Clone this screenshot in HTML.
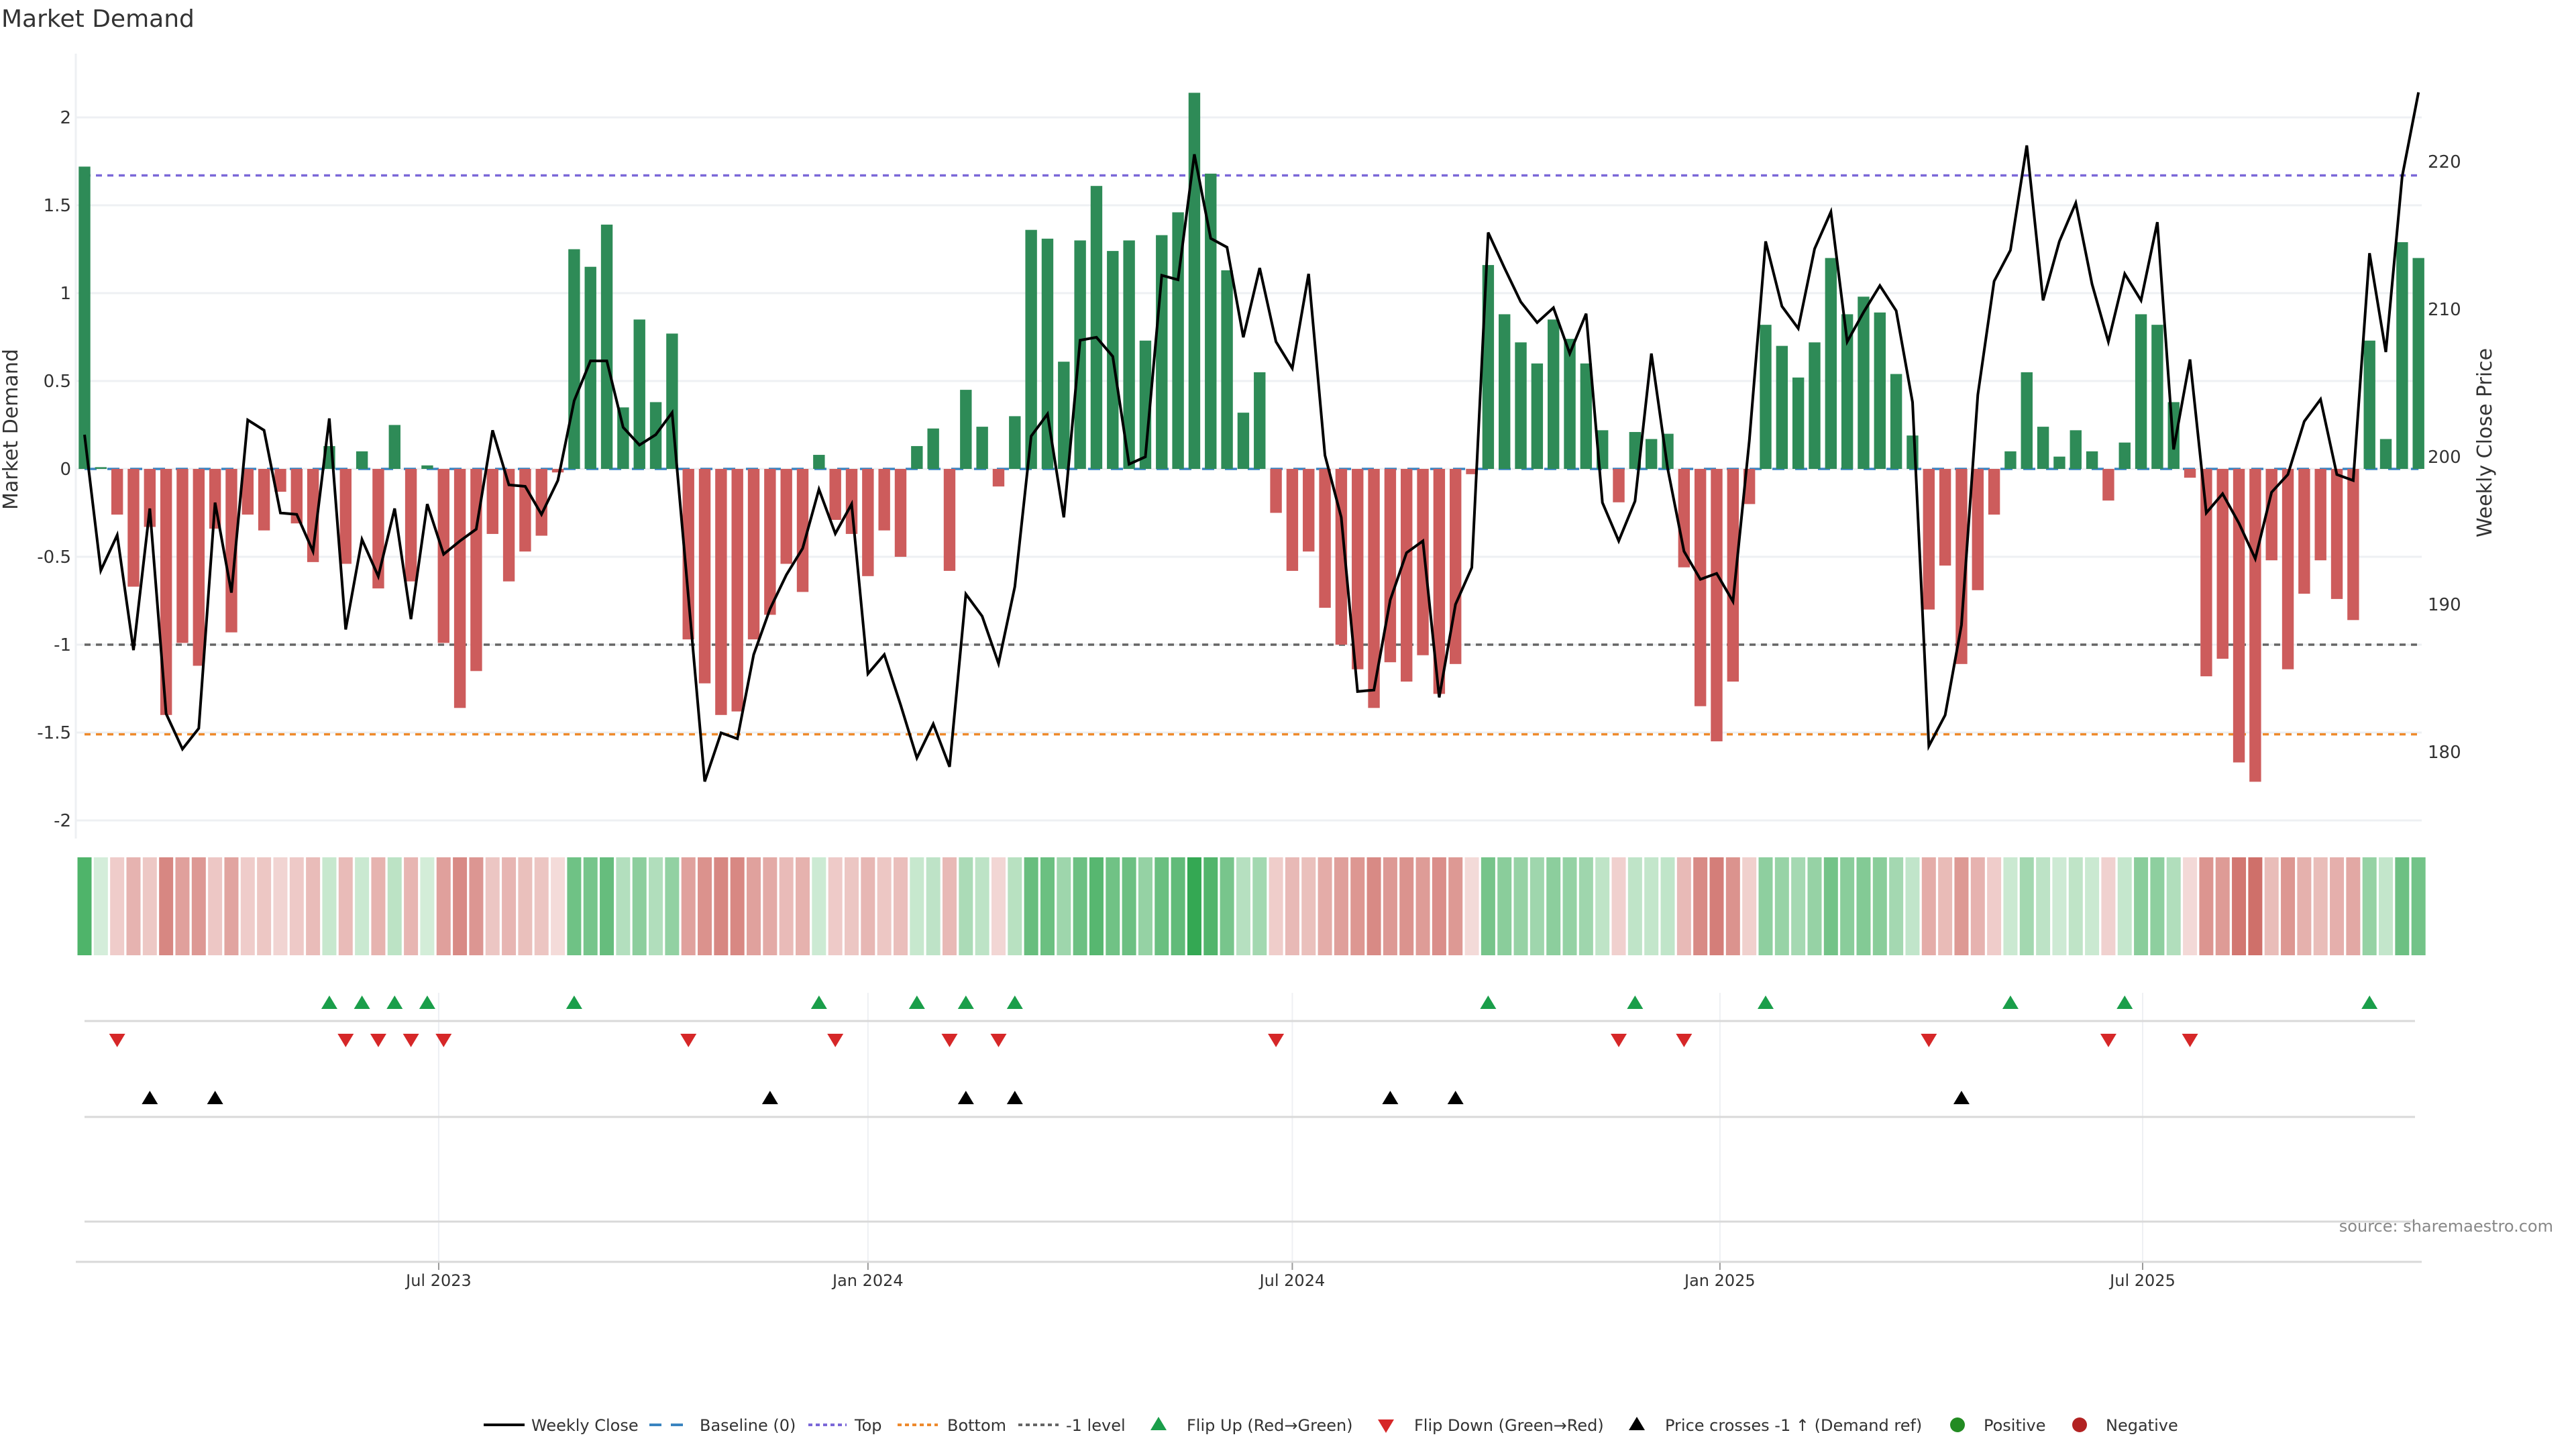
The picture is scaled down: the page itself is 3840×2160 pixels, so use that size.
<!DOCTYPE html>
<html><head><meta charset="utf-8">
<style>
html,body{margin:0;padding:0;background:#fff;}
svg{display:block;font-family:"DejaVu Sans","Liberation Sans",sans-serif;}
</style></head>
<body>
<svg id="chart" width="3840" height="2160" viewBox="0 0 3840 2160" xmlns="http://www.w3.org/2000/svg">
<text x="2" y="40" font-size="36" fill="#333">Market Demand</text>
<g id="grid"></g><g id="refs"></g><g id="bars"></g><g id="priceline"></g>
<g id="axes"></g><g id="heat"></g><g id="markers"></g><g id="legend"></g>
<text x="3806" y="1836" font-size="24" fill="#888" text-anchor="end">source: sharemaestro.com</text>
</svg>
<script>
const demand=[1.72,0.01,-0.26,-0.67,-0.33,-1.40,-0.99,-1.12,-0.34,-0.93,-0.26,-0.35,-0.13,-0.31,-0.53,0.13,-0.54,0.10,-0.68,0.25,-0.64,0.02,-0.99,-1.36,-1.15,-0.37,-0.64,-0.47,-0.38,-0.02,
1.25,1.15,1.39,0.35,0.85,0.38,0.77,-0.97,-1.22,-1.40,-1.38,-0.97,-0.83,-0.54,-0.70,0.08,-0.29,-0.37,-0.61,-0.35,-0.50,0.13,0.23,-0.58,0.45,0.24,-0.10,0.30,1.36,1.31,
0.61,1.30,1.61,1.24,1.30,0.73,1.33,1.46,2.14,1.68,1.13,0.32,0.55,-0.25,-0.58,-0.47,-0.79,-1.00,-1.14,-1.36,-1.10,-1.21,-1.06,-1.28,-1.11,-0.03,1.16,0.88,0.72,0.60,
0.85,0.74,0.60,0.22,-0.19,0.21,0.17,0.20,-0.56,-1.35,-1.55,-1.21,-0.20,0.82,0.70,0.52,0.72,1.20,0.88,0.98,0.89,0.54,0.19,-0.80,-0.55,-1.11,-0.69,-0.26,0.10,0.55,
0.24,0.07,0.22,0.10,-0.18,0.15,0.88,0.82,0.38,-0.05,-1.18,-1.08,-1.67,-1.78,-0.52,-1.14,-0.71,-0.52,-0.74,-0.86,0.73,0.17,1.29,1.20];
const price=[201.5,192.3,194.7,186.9,196.5,182.6,180.2,181.6,196.9,190.8,202.5,201.8,196.2,196.1,193.6,202.6,188.3,194.4,191.9,196.5,189.0,196.8,193.4,194.3,195.1,201.8,198.1,198.0,196.1,198.4,
203.8,206.5,206.5,202.0,200.8,201.5,203.0,190.5,178.0,181.3,180.9,186.6,189.7,192.0,193.8,197.8,194.8,196.8,185.3,186.6,183.2,179.6,181.9,179.0,190.7,189.2,186.0,191.2,201.4,202.9,
195.9,207.9,208.1,206.8,199.5,200.0,212.3,212.0,220.5,214.8,214.2,208.1,212.8,207.8,206.0,212.4,200.1,195.9,184.1,184.2,190.3,193.5,194.3,183.7,190.0,192.5,215.2,212.8,210.5,209.1,
210.1,207.0,209.7,196.9,194.3,197.0,207.0,199.2,193.6,191.7,192.1,190.2,201.1,214.6,210.2,208.7,214.1,216.6,207.8,209.8,211.6,209.9,203.7,180.4,182.5,188.6,204.2,211.9,214.0,221.1,
210.6,214.6,217.2,211.7,207.8,212.4,210.6,215.9,200.5,206.6,196.2,197.5,195.5,193.1,197.6,198.8,202.4,203.9,198.8,198.4,213.8,207.1,219.0,224.7];
const flipUp=[15,17,19,21,30,45,51,54,57,86,95,103,118,125,140];
const flipDown=[2,16,18,20,22,37,46,53,56,73,94,98,113,124,129];
const crossUp=[4,8,42,54,57,80,84,115];
const leftTicks=[2,1.5,1,0.5,0,-0.5,-1,-1.5,-2];
const rightTicks=[180,190,200,210,220];
const dateLabels=["Jul 2023","Jan 2024","Jul 2024","Jan 2025","Jul 2025"];
const dateIdx=[21.7,48.0,74.0,100.2,126.1];
const refLevels=[1.67,-1.51,-1];

const NS="http://www.w3.org/2000/svg";
const X0=126,DX=24.33;
const xi=i=>X0+i*DX;
const yL=v=>699-v*262;
const yR=p=>681-(p-200)*22;
const PL=113,PR=3610;
function el(tag,attrs,parent,txt){const e=document.createElementNS(NS,tag);for(const k in attrs)e.setAttribute(k,attrs[k]);if(txt!==undefined)e.textContent=txt;parent.appendChild(e);return e;}
const G=id=>document.getElementById(id);
const nLast=demand.length-1;

leftTicks.forEach(t=>{
  const g=el('line',{x1:PL,x2:PR,y1:yL(t),y2:yL(t),stroke:'#eef0f3','stroke-width':3},G('grid'));
  
  
  const tx=el('text',{x:106,y:yL(t)+9,'font-size':26,fill:'#333','text-anchor':'end'},G('axes'),String(t));
  
  
});
const la=el('line',{x1:PL,x2:PL,y1:80,y2:1250,stroke:'#eef0f3','stroke-width':3},G('grid'));


rightTicks.forEach(t=>{
  const tx=el('text',{x:3619,y:yR(t)+9,'font-size':26,fill:'#333'},G('axes'),String(t));
  
  
});
let yt=el('text',{x:26,y:640,'font-size':30,fill:'#333','text-anchor':'middle',transform:'rotate(-90 26 640)'},G('axes'),'Market Demand');


yt=el('text',{x:3714,y:660,'font-size':30,fill:'#333','text-anchor':'middle',transform:'rotate(-90 3714 660)'},G('axes'),'Weekly Close Price');



const refColors=['#7b68d8','#ee8a2c','#666'];
const refNames=['top-line','bottom-line','minus-one-level-line'];
refLevels.forEach((v,k)=>{
  const l=el('line',{x1:xi(0),x2:xi(nLast),y1:yL(v),y2:yL(v),stroke:refColors[k],'stroke-width':3.5,'stroke-dasharray':'9 8'},G('refs'));
  
  
});

const BW=17.4;
demand.forEach((v,i)=>{
  const y=Math.min(yL(v),yL(0)),h=Math.abs(yL(v)-yL(0));
  const r=el('rect',{x:xi(i)-BW/2,y:y,width:BW,height:Math.max(h,1),fill:v>=0?'#2e8b57':'#cd5c5c'},G('bars'));
  
  
});
const bl=el('line',{x1:xi(0),x2:xi(nLast),y1:yL(0),y2:yL(0),stroke:'#3a84c0','stroke-width':3.5,'stroke-dasharray':'18 16'},G('refs'));



const pts=price.map((p,i)=>xi(i).toFixed(1)+','+yR(p).toFixed(1)).join(' ');
const pl=el('polyline',{points:pts,fill:'none',stroke:'#000','stroke-width':4,'stroke-linejoin':'miter'},G('priceline'));



function mix(a,b,t){return 'rgb('+a.map((c,k)=>Math.round(c+(b[k]-c)*t)).join(',')+')';}
demand.forEach((v,i)=>{
  let c;
  if(v>=0)c=mix([214,238,219],[52,168,83],Math.min(1,Math.pow(v/2.14,0.85)));
  else c=mix([244,220,218],[207,111,105],Math.min(1,-v/1.8));
  const r=el('rect',{x:xi(i)-10.5,y:1278,width:21,height:146,fill:c},G('heat'));
  
  
});

[1522,1665,1821].forEach(y=>{
  const l=el('line',{x1:126,x2:3600,y1:y,y2:y,stroke:'#d9d9d9','stroke-width':3},G('markers'));
  
  
});
const xa=el('line',{x1:PL,x2:3610,y1:1881,y2:1881,stroke:'#d9d9d9','stroke-width':3},G('markers'));


dateIdx.forEach((d,k)=>{
  const x=xi(d);
  const g=el('line',{x1:x,x2:x,y1:1480,y2:1881,stroke:'#eef0f3','stroke-width':2},G('grid'));
  
  
  const t=el('line',{x1:x,x2:x,y1:1881,y2:1893,stroke:'#999','stroke-width':2},G('axes'));
  
  
  const tx=el('text',{x:x,y:1917,'font-size':24,fill:'#333','text-anchor':'middle'},G('axes'),dateLabels[k]);
  
  
});
function tri(x,y,up,color,parent){
  const p=up?`${x-12},${y+10} ${x+12},${y+10} ${x},${y-10}`:`${x-12},${y-10} ${x+12},${y-10} ${x},${y+10}`;
  return el('polygon',{points:p,fill:color},parent);
}
flipUp.forEach(i=>{const t=tri(xi(i),1494,true,'#1a9e4a',G('markers'));
  
  });
flipDown.forEach(i=>{const t=tri(xi(i),1551,false,'#d62728',G('markers'));
  
  });
crossUp.forEach(i=>{const t=tri(xi(i),1636,true,'#000',G('markers'));
  
  });

const LY=2124,LG=G('legend');
function ltext(x,s,name){const t=el('text',{x:x,y:LY+9,'font-size':24,fill:'#333'},LG,s);
  
  }
let s;
s=el('line',{x1:721,x2:782,y1:LY,y2:LY,stroke:'#000','stroke-width':4},LG);


ltext(792,'Weekly Close','legend-weekly-close');
s=el('line',{x1:968,x2:1030,y1:LY,y2:LY,stroke:'#3a84c0','stroke-width':4,'stroke-dasharray':'18 14'},LG);


ltext(1043,'Baseline (0)','legend-baseline');
s=el('line',{x1:1205,x2:1262,y1:LY,y2:LY,stroke:'#7b68d8','stroke-width':4,'stroke-dasharray':'6 5'},LG);


ltext(1274,'Top','legend-top');
s=el('line',{x1:1338,x2:1398,y1:LY,y2:LY,stroke:'#ee8a2c','stroke-width':4,'stroke-dasharray':'6 5'},LG);


ltext(1412,'Bottom','legend-bottom');
s=el('line',{x1:1518,x2:1578,y1:LY,y2:LY,stroke:'#666','stroke-width':4,'stroke-dasharray':'6 5'},LG);


ltext(1589,'-1 level','legend-minus-one');
s=tri(1727,LY-2,true,'#1a9e4a',LG);


ltext(1769,'Flip Up (Red→Green)','legend-flip-up');
s=tri(2066,LY+2,false,'#d62728',LG);


ltext(2108,'Flip Down (Green→Red)','legend-flip-down');
s=tri(2440,LY-2,true,'#000',LG);


ltext(2482,'Price crosses -1 ↑ (Demand ref)','legend-price-cross');
s=el('circle',{cx:2918,cy:LY,r:11,fill:'#228b22'},LG);


ltext(2957,'Positive','legend-positive');
s=el('circle',{cx:3100,cy:LY,r:11,fill:'#b22222'},LG);


ltext(3139,'Negative','legend-negative');
</script>
</body></html>
